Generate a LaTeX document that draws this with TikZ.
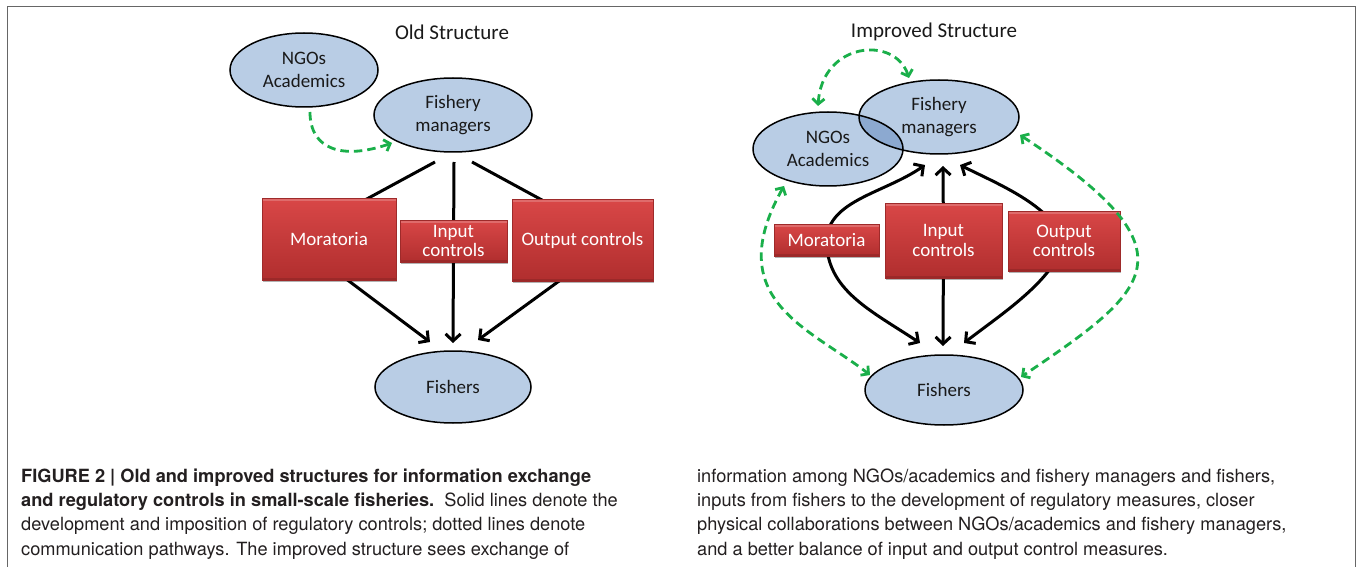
\documentclass[tikz,border=0pt]{standalone}
\usepackage{fontspec}
\newfontfamily\carlito{Carlito}
\newfontfamily\helv{TeX Gyre Heros}
\usetikzlibrary{arrows.meta,calc,shadows,backgrounds,shapes.geometric}
\definecolor{ellblue}{HTML}{B9CDE5}
\definecolor{ellover}{HTML}{8CA9D0}
\definecolor{boxtop}{HTML}{D94747}
\definecolor{boxbot}{HTML}{B02E2E}
\definecolor{boxedge}{HTML}{9E2A2A}
\definecolor{commgreen}{HTML}{1AAF4A}
\definecolor{framegray}{HTML}{666666}
\definecolor{captext}{HTML}{231F20}
\begin{document}
\begin{tikzpicture}[x=1pt,y=1pt,
  ell/.style={ellipse, draw=black, line width=1.5pt, fill=ellblue, inner sep=0pt,
    align=center, text=black!90, font=\carlito\fontsize{19}{23.5}\selectfont},
  ctrl/.style={rectangle, draw=boxedge, line width=0.6pt, top color=boxtop,
    bottom color=boxbot, inner sep=0pt, align=center, text=white,
    font=\carlito\fontsize{19}{19.5}\selectfont,
    drop shadow={shadow xshift=1.2pt, shadow yshift=-1.6pt, opacity=0.3, fill=black},
    path picture={
      \fill[white,opacity=0.2] (path picture bounding box.north west)
        rectangle ([yshift=-3pt]path picture bounding box.north east);
      \fill[black,opacity=0.12] (path picture bounding box.south west)
        rectangle ([yshift=2.5pt]path picture bounding box.south east);}},
  ttl/.style={font=\carlito\fontsize{21}{24}\selectfont, text=black!90},
  rule/.style={line width=3pt, black, >={Straight Barb[length=7pt,width=15pt]}, ->},
  comm/.style={line width=2.8pt, commgreen, dash pattern=on 8.5pt off 5pt,
    >={Straight Barb[length=5.5pt,width=12pt]}},
  captxt/.style={anchor=base west, align=left, inner sep=0pt, text=captext,
    font=\helv\fontsize{18.2}{24.3}\selectfont}
]
\useasboundingbox (0,0) rectangle (1358,-567);
% frame round the figure
\draw[framegray, line width=1.5pt] (7.5,-567) -- (7.5,-6.5) -- (1355.5,-6.5) -- (1355.5,-567);

% ---------- old structure ----------
\node[ttl] (ttlL) at (452,-32) {Old Structure};
\node[ell, minimum width=148pt, minimum height=74pt] (ngoL) at (304,-70) {NGOs\\Academics};
\node[ell, minimum width=158pt, minimum height=74pt] (fmL) at (453,-115) {Fishery\\managers};
\node[ctrl, minimum width=134pt, minimum height=82pt] (morL) at (329,-239) {Moratoria};
\node[ctrl, minimum width=107pt, minimum height=42pt] (inL) at (453.5,-241) {Input\\controls};
\node[ctrl, minimum width=141pt, minimum height=82pt] (outL) at (582.5,-240) {Output controls};
\node[ell, minimum width=156pt, minimum height=72pt] (fiL) at (453,-387) {Fishers};

% ---------- improved structure ----------
\node[ttl] (ttlR) at (934,-32) {Improved Structure};
\node[ell, minimum width=150pt, minimum height=74pt] (ngoR) at (828,-149) {NGOs\\Academics};
\node[ell, minimum width=160pt, minimum height=74pt,
  path picture={\fill[ellover] (ngoR.center) ellipse [x radius=75, y radius=37];
    \draw[line width=1.5pt] (ngoR.center) ellipse [x radius=75, y radius=37];}]
  (fmR) at (939,-117) {Fishery\\managers};
\node[ctrl, minimum width=105pt, minimum height=32pt] (morR) at (826.5,-240) {Moratoria};
\node[ctrl, minimum width=117pt, minimum height=75pt] (inR) at (943.5,-240.5) {Input\\controls};
\node[ctrl, minimum width=112pt, minimum height=60pt] (outR) at (1064,-241) {Output\\controls};
\node[ell, minimum width=158pt, minimum height=70pt] (fiR) at (944,-390) {Fishers};

\begin{scope}[on background layer]
  % old: controls imposed from managers onto fishers
  \draw[rule] ($(fmL.center)+(-18,-47)$) -- ($(morL.center)+(-36,0)$) -- ($(fiL.center)+(-23,45)$);
  \draw[rule] ($(fmL.center)+(1,-47)$) -- ($(fiL.center)+(0,44)$);
  \draw[rule] ($(fmL.center)+(19,-47)$) -- ($(outL.center)+(33,0)$) -- ($(fiL.center)+(25,47)$);
  % improved: controls feed both ways
  \draw[rule] (morR.center) .. controls ($(morR.center)+(2,40)$) and ($(fmR.center)+(-54,-76)$) .. ($(fmR.center)+(-14,-48)$);
  \draw[rule] (morR.center) .. controls ($(morR.center)+(0,-50)$) and ($(fiR.center)+(-74,80)$) .. ($(fiR.center)+(-24,47)$);
  \draw[rule] (inR.center) -- ($(fmR.center)+(4,-49)$);
  \draw[rule] (inR.center) -- ($(fiR.center)+(-1,44)$);
  \draw[rule] (outR.center) .. controls ($(outR.center)+(-14,36)$) and ($(fmR.center)+(61,-68)$) .. ($(fmR.center)+(21,-48)$);
  \draw[rule] (outR.center) .. controls ($(outR.center)+(-9,-39)$) and ($(fiR.center)+(56,75)$) .. ($(fiR.center)+(20,47)$);
\end{scope}

% communication pathways
\draw[comm,->] ($(ngoL.center)+(6,-42)$) .. controls ($(ngoL.center)+(6,-80)$) and ($(fmL.center)+(-110,-45)$) .. ($(fmL.center)+(-61,-28)$);
\draw[comm,<->] ($(ngoR.center)+(-10,43)$) .. controls ($(ngoR.center)+(-6,107)$) and ($(fmR.center)+(-44,82)$) .. ($(fmR.center)+(-30,39)$);
\draw[comm,<->] ($(ngoR.center)+(-44,-37)$) .. controls ($(ngoR.center)+(-108,-151)$) and ($(fiR.center)+(-134,62)$) .. ($(fiR.center)+(-74,15)$);
\draw[comm,<->] ($(fmR.center)+(81,-18)$) .. controls ($(fmR.center)+(261,-136)$) and ($(fiR.center)+(206,100)$) .. ($(fiR.center)+(77,13)$);

% caption (anchored at the baseline of its last line)
\node[captxt] (capL) at (21,-555) {\textbf{FIGURE 2 | Old and improved structures for information exchange}\\
\textbf{and regulatory controls in small-scale fisheries.}\ \ Solid lines denote the\\
development and imposition of regulatory controls; dotted lines denote\\
communication pathways. The improved structure sees exchange of};
\node[captxt] (capR) at (697,-555) {information among NGOs/academics and fishery managers and fishers,\\
inputs from fishers to the development of regulatory measures, closer\\
physical collaborations between NGOs/academics and fishery managers,\\
and a better balance of input and output control measures.};
\end{tikzpicture}
\end{document}
